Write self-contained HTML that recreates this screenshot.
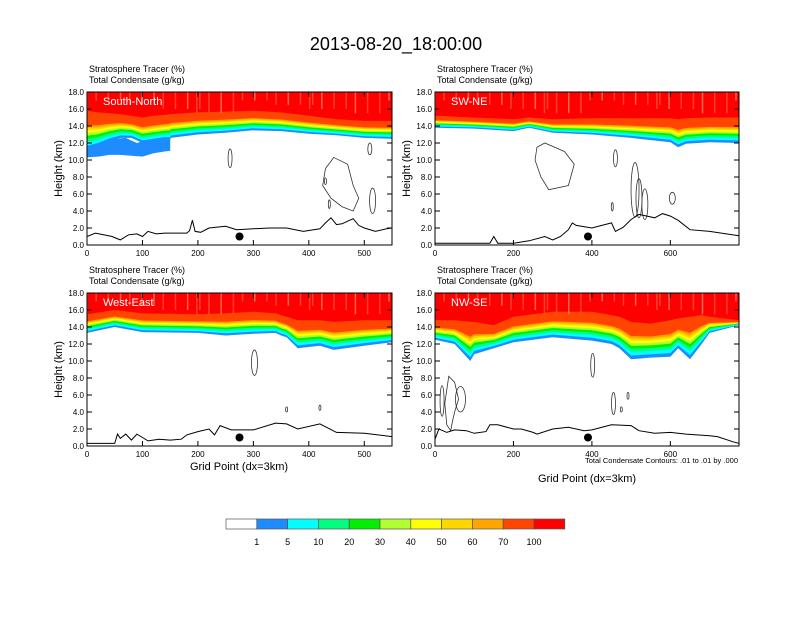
<!DOCTYPE html>
<html><head><meta charset="utf-8"><style>
body{margin:0;background:#fff;width:792px;height:612px;overflow:hidden}
svg text{font-family:"Liberation Sans",sans-serif}
</style></head><body>
<svg id="fig" width="792" height="612" xmlns="http://www.w3.org/2000/svg">
<text x="396" y="50" font-size="18" text-anchor="middle">2013-08-20_18:00:00</text>
<g id="panels"></g>
<g id="cbar"></g>
<text x="738" y="463" font-size="7.5" text-anchor="end">Total Condensate Contours: .01 to .01 by .000</text>
<text x="239" y="470" font-size="11" text-anchor="middle">Grid Point (dx=3km)</text>
<text x="587" y="482" font-size="11" text-anchor="middle">Grid Point (dx=3km)</text>
</svg>
<script>
const NS='http://www.w3.org/2000/svg';
const colors=['#ffffff','#1e8cff','#00ffff','#00ff80','#00f000','#b0ff30','#ffff00','#ffd700','#ffa500','#ff4500','#ff0000'];
const bandFrac=[0,0.1,0.2,0.28,0.36,0.43,0.5,0.56,0.62,1.0];
const cbarLabels=['1','5','10','20','30','40','50','60','70','100'];
const yTicks=[0,2,4,6,8,10,12,14,16,18];

// South-North
const snX=[0,20,40,60,80,100,120,140,150,151,200,250,300,350,400,450,500,550];
const snBase=[11.2,11.6,12.2,12.6,12.6,12.0,12.2,12.4,12.4,12.6,13.0,13.2,13.5,13.4,13.1,12.9,12.6,12.5];
const snRed=[15.8,15.6,15.5,15.4,15.2,15.0,15.2,15.3,15.4,15.4,15.6,15.7,15.8,15.6,15.2,14.8,14.6,14.6];
const snPatchX=[0,20,40,60,80,100,120,140,150,150,140,100,90,70,50,0];
const snPatchY=[10.3,10.4,10.6,10.6,10.5,10.4,10.8,11.0,11.1,12.6,12.6,12.2,12.0,12.6,12.5,12.0];
const snTx=[0,15,30,45,60,75,90,100,110,125,140,160,180,185,190,195,205,220,250,270,300,330,360,390,420,430,440,450,460,470,480,490,500,520,540,550];
const snTy=[1.0,1.4,1.2,1.0,0.6,1.2,1.3,1.0,1.6,1.3,1.4,1.4,1.4,1.7,2.9,1.6,1.5,2.0,2.2,1.8,1.9,2.0,2.0,1.6,1.9,2.6,3.2,2.4,2.5,2.8,3.1,2.3,2.0,1.6,1.9,2.0];
// SW-NE
const swX=[0,100,200,240,300,400,500,600,620,640,700,775];
const swBase=[13.8,13.7,13.4,13.8,13.2,13.0,12.6,12.1,11.5,11.9,12.1,12.0];
const swRed=[15.2,15.0,14.8,15.0,14.8,14.9,14.9,14.9,14.8,14.9,15.0,15.0];
const swTx=[0,140,150,160,200,240,280,300,320,340,350,360,400,450,460,480,500,520,560,580,600,620,650,700,775];
const swTy=[0.2,0.2,1.0,0.2,0.2,0.5,1.0,0.6,1.0,1.8,2.6,2.3,2.0,2.6,1.6,2.1,3.0,3.6,3.2,3.7,3.4,2.9,1.8,1.6,1.1];
// West-East
const weX=[0,50,100,200,250,300,340,350,360,380,420,445,500,550];
const weBase=[13.3,14.0,13.4,13.3,13.0,13.2,13.3,13.0,12.8,11.5,11.8,11.3,11.8,12.2];
const weRed=[15.5,16.0,15.6,15.5,15.6,15.8,15.6,15.4,15.2,14.8,14.8,14.6,14.8,14.8];
const weTx=[0,50,55,60,70,80,90,100,110,130,150,170,180,200,220,230,240,260,300,340,360,380,420,450,500,550];
const weTy=[0.3,0.3,1.4,0.9,1.4,0.7,1.4,1.0,0.6,0.8,0.7,0.8,1.3,1.7,2.0,1.3,2.4,1.9,1.9,2.7,2.6,2.0,2.6,1.6,1.5,1.1];
// NW-SE
const nwX=[0,50,90,100,150,200,300,400,450,470,500,550,600,620,650,680,700,775];
const nwBase=[12.5,12.0,10.0,10.8,11.5,12.2,12.8,12.4,12.0,11.5,10.2,10.4,10.5,11.5,10.2,12.0,13.3,14.2];
const nwRed=[14.8,14.8,14.6,14.6,14.2,15.2,15.8,15.8,15.4,15.2,14.6,14.4,14.8,15.0,15.2,15.4,15.2,14.8];
const nwTx=[0,10,30,50,80,100,130,140,160,200,220,250,260,300,340,380,400,450,500,520,560,600,640,700,720,760,775];
const nwTy=[0.8,2.0,1.6,1.9,1.8,1.5,1.7,2.5,2.5,2.0,2.0,1.6,1.4,2.0,2.2,1.8,1.9,2.5,2.4,1.8,1.5,1.6,1.4,1.2,1.1,0.5,0.3];

const panels=[
 {name:'south-north',label:'South-North',x0:87,x1:392,y0:92,y1:245,xmax:550,xt:[0,100,200,300,400,500],X:snX,B:snBase,R:snRed,TX:snTx,TY:snTy,dot:275,PX:snPatchX,PY:snPatchY,
  ell:[[258,10.2,2,1.1],[430,7.5,1,0.4],[437,4.8,1,0.5],[510,11.3,2,0.7],[515,5.2,3,1.5]],blob:[[430,9],[445,10.3],[470,9.5],[480,7],[490,5.5],[480,4],[460,4.5],[440,5.5],[425,7]]},
 {name:'sw-ne',label:'SW-NE',x0:435,x1:739,y0:92,y1:245,xmax:775,xt:[0,200,400,600],X:swX,B:swBase,R:swRed,TX:swTx,TY:swTy,dot:390,
  ell:[[460,10.2,2,1.0],[510,6.5,4,3.2],[520,5.5,3,2.3],[535,4.8,3,1.8],[605,5.5,3,0.7],[452,4.5,1,0.5]],blob:[[260,11.5],[280,12],[330,11],[355,9.5],[340,7],[290,6.5],[270,8],[255,10]]},
 {name:'west-east',label:'West-East',x0:87,x1:392,y0:293,y1:446,xmax:550,xt:[0,100,200,300,400,500],X:weX,B:weBase,R:weRed,TX:weTx,TY:weTy,dot:275,
  ell:[[302,9.8,3,1.5],[360,4.3,1,0.3],[420,4.5,1,0.3]],blob:null},
 {name:'nw-se',label:'NW-SE',x0:435,x1:739,y0:293,y1:446,xmax:775,xt:[0,200,400,600],X:nwX,B:nwBase,R:nwRed,TX:nwTx,TY:nwTy,dot:390,
  ell:[[402,9.5,2,1.4],[455,5.0,2,1.3],[492,5.9,1,0.4],[475,4.3,1,0.3],[18,5.3,2,1.8],[65,5.5,5,1.5]],blob:[[35,8.2],[50,7.5],[60,5.5],[50,4],[45,3],[40,1.8],[30,2.5],[25,5]]}
];

function el(tag,attrs,parent){const e=document.createElementNS(NS,tag);for(const k in attrs)e.setAttribute(k,attrs[k]);parent.appendChild(e);return e;}
const root=document.getElementById('panels');
panels.forEach((p,pi)=>{
 const g=el('g',{},root);
 
 
 const sx=v=>p.x0+(p.x1-p.x0)*v/p.xmax, sy=v=>p.y1-(p.y1-p.y0)*v/18;
 const cid='clip'+pi;
 const cp=el('clipPath',{id:cid},g);el('rect',{x:p.x0,y:p.y0,width:p.x1-p.x0,height:p.y1-p.y0},cp);
 const fill=el('g',{'clip-path':'url(#'+cid+')'},g);
 if(p.PX){const pp=el('polygon',{points:p.PX.map((x,i)=>sx(x).toFixed(1)+','+sy(p.PY[i]).toFixed(1)).join(' '),fill:colors[1]},fill);
  }
 for(let k=1;k<=10;k++){
  let d='M'+sx(p.X[0])+','+sy(18);
  p.X.forEach((x,i)=>{const lv=p.B[i]+bandFrac[k-1]*(p.R[i]-p.B[i]);d+=' L'+sx(x).toFixed(1)+','+sy(lv).toFixed(1);});
  d+=' L'+sx(p.X[p.X.length-1])+','+sy(18)+'Z';
  const band=el('path',{d:d,fill:colors[k]},fill);
  
  
 }
 for(let i=0;i<30;i++){const xv=p.xmax*(i*37%100)/100;el('line',{x1:sx(xv),x2:sx(xv),y1:sy(18),y2:sy(15.5+(i%4)*0.5),stroke:i%3?'#ff5030':'#ff8060','stroke-width':1.5,opacity:0.8},fill);}
 p.ell.forEach(e=>{const c=el('ellipse',{cx:sx(e[0]),cy:sy(e[1]),rx:e[2],ry:(p.y1-p.y0)*e[3]/18,fill:'none',stroke:'#333','stroke-width':0.8},fill);
  });
 if(p.blob){const b=el('polygon',{points:p.blob.map(q=>sx(q[0])+','+sy(q[1])).join(' '),fill:'none',stroke:'#333','stroke-width':0.8},fill);
  }
 let td='';p.TX.forEach((x,i)=>{td+=(i?' L':'M')+sx(x).toFixed(1)+','+sy(p.TY[i]).toFixed(1);});
 const ter=el('path',{d:td,fill:'none',stroke:'#000','stroke-width':1},fill);
 
 const dot=el('circle',{cx:sx(p.dot),cy:sy(1),r:4,fill:'#000'},g);
 
 const fr=el('rect',{x:p.x0,y:p.y0,width:p.x1-p.x0,height:p.y1-p.y0,fill:'none',stroke:'#000','stroke-width':1},g);
 
 yTicks.forEach(t=>{const y=sy(t);el('line',{x1:p.x0,x2:p.x0+5,y1:y,y2:y,stroke:'#000'},g);el('line',{x1:p.x1,x2:p.x1-5,y1:y,y2:y,stroke:'#000'},g);
  const tl=el('text',{x:p.x0-3,y:y+3,'font-size':8,'text-anchor':'end'},g);tl.textContent=t.toFixed(1);
  });
 p.xt.forEach(t=>{const x=sx(t);el('line',{x1:x,x2:x,y1:p.y1,y2:p.y1-5,stroke:'#000'},g);el('line',{x1:x,x2:x,y1:p.y0,y2:p.y0+5,stroke:'#000'},g);
  const tl=el('text',{x:x,y:p.y1+11,'font-size':8,'text-anchor':'middle'},g);tl.textContent=t;
  });
 const lab=el('text',{x:p.x0+16,y:p.y0+13,'font-size':11,fill:'#fff'},g);lab.textContent=p.label;
 
 const t1=el('text',{x:p.x0+2,y:p.y0-20,'font-size':9},g);t1.textContent='Stratosphere Tracer   (%)';
 
 const t2=el('text',{x:p.x0+2,y:p.y0-9,'font-size':9},g);t2.textContent='Total Condensate   (g/kg)';
 
 const yl=el('text',{x:0,y:0,'font-size':11,'text-anchor':'middle',transform:'translate('+(p.x0-25)+','+((p.y0+p.y1)/2)+') rotate(-90)'},g);yl.textContent='Height (km)';
 
});
const cb=document.getElementById('cbar');
const cbX=226,cbW=30.8;
colors.forEach((c,i)=>{const r=el('rect',{x:cbX+i*cbW,y:519,width:cbW,height:10,fill:c,stroke:'#555','stroke-width':0.7},cb);
 });
cbarLabels.forEach((l,i)=>{const t=el('text',{x:cbX+(i+1)*cbW,y:545,'font-size':9,'text-anchor':'middle'},cb);t.textContent=l;
 });
</script>
</body></html>
